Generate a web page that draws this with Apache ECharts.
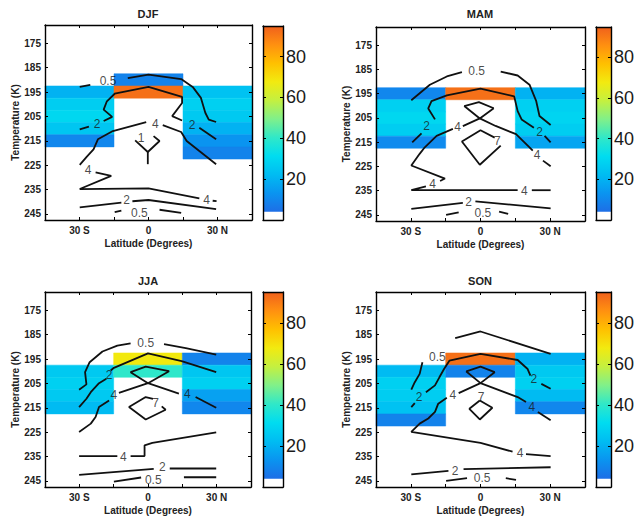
<!DOCTYPE html>
<html><head><meta charset="utf-8">
<script src="https://cdn.jsdelivr.net/npm/echarts@6/dist/echarts.min.js"></script>
<style>html,body{margin:0;padding:0;background:#fff}#c{width:637px;height:518px}</style>
</head><body><div id="c"></div>
<script>
// ---------------- data ----------------
const seasons = ['DJF', 'MAM', 'JJA', 'SON'];
const latTickLabels = { '-30': '30 S', '0': '0', '30': '30 N' };
const tempTicks = [175, 185, 195, 205, 215, 225, 235, 245];
const cbarTicks = [20, 40, 60, 80];
const latMin = -45, latMax = 45, latInterval = 15;
const tempMin = 167.5, tempMax = 247.5;
const latBin = 30, tempBin = 5;
const cbarMin = 0, cmapMin = 4, cmapMax = 95;
const cmapColors = ['#1e6ee6', '#0a94f0', '#00bcf2', '#00dcf0', '#30e8c8', '#80f08a',
                    '#c4f040', '#f2ea10', '#ffc000', '#ff9010', '#f0601c'];

// cells: [latitude bin centre, temperature bin centre, value]
const djfCells = [[-30,195,20],[-30,200,27],[-30,205,30],[-30,210,25],[-30,215,10],
  [0,190,9],[0,195,92],
  [30,195,24],[30,200,28],[30,205,26],[30,210,20],[30,215,13],[30,220,9]];
const mamCells = [[-30,195,10],[-30,200,28],[-30,205,30],[-30,210,27],[-30,215,11],
  [0,195,92],
  [30,195,20],[30,200,28],[30,205,29],[30,210,27],[30,215,17]];
const jjaCells = [[-30,200,26],[-30,205,28],[-30,210,26],[-30,215,22],
  [0,195,68],[0,200,40],
  [30,195,9],[30,200,25],[30,205,28],[30,210,16],[30,215,10]];
const sonCells = [[-30,200,22],[-30,205,28],[-30,210,27],[-30,215,24],[-30,220,9],
  [0,195,92],[0,200,9],
  [30,195,20],[30,200,26],[30,205,28],[30,210,22],[30,215,10]];

// contour segments: [latitude, temperature]
const djfLines = [
 [[-29.9,192.9],[-25.3,192.1]],
 [[-9.0,189.3],[0,187.9],[14.2,189.7],[19.2,192.9],[22.8,197.4],[24.7,203.5],[26.2,206.3],[29.4,207.3]],
 [[-29.9,210.3],[-25.9,209.2]],
 [[-19.5,206.9],[-15.8,205.2],[-19.5,202.2],[-18.1,198.8],[-14.7,195.7],[0,192.9],[14.6,197],[14.6,199.5],[10.3,204.9],[14.6,206.7]],
 [[22.1,209.7],[29.4,214.4]],
 [[6.2,208.6],[14.2,211.4],[16.6,215.1],[22.1,219.2],[29.4,224.6]],
 [[-1.0,207.3],[-15.5,211],[-22,214.4],[-23.9,218.5],[-26.8,221.5],[-29.9,224.9]],
 [[-23,228],[-16.2,229.4],[-29.9,234.8],[0,234.5],[22.1,238.6]],
 [[27.9,239.6],[29.6,239.8]],
 [[-5.8,214.8],[-0.3,219.6],[4.8,215.1],[2.2,213.1]],
 [[-0.3,219.6],[-0.3,224.6]],
 [[-29.9,242.3],[-11.8,240.4]],
 [[-7.0,239.8],[0,239.3],[29.4,243]],
 [[-14.7,244.3],[-11.8,243.7]],
 [[4.8,243.3],[14.2,244.6]]
];
const djfLabels = [[-17.6,190.6,'0.5'],[-22.4,208.3,'2'],[18.9,208.4,'2'],[3.0,208,'4'],
  [-26.3,226.9,'4'],[25.3,239.4,'4'],[-3.2,213.9,'1'],[-9.5,239.4,'2'],[-4.0,244.5,'0.5']];

const mamLines = [
 [[-29.8,197.7],[-21.8,191.3],[-14.5,187.9],[-8.0,186.1]],
 [[8.7,185.9],[16,187.5],[21.1,191.3],[24,198.1],[25.4,204.2],[30.2,207.9]],
 [[-19.6,205.6],[-22.5,201.1],[-21.1,198.1],[-14.5,195.7],[0,192.9],[14.5,196.1],[16,202.2],[17.7,205.6],[23,209]],
 [[27.6,212.4],[30.2,215.1]],
 [[-25.4,211.4],[-29.4,215.1]],
 [[5.7,201],[-0.3,205.2],[-7.6,208.4]],
 [[-7,200.1],[-0.7,198.5],[5.7,201]],
 [[-7,200.1],[-0.3,205.2],[6.5,208.3],[15.3,211.7],[21.1,217.1],[22.5,218.5]],
 [[26.9,222.6],[30.2,224.9]],
 [[-11.9,209.5],[-18.9,212.4],[-24,217.1],[-26.2,219.8],[-29.8,224.6],[-15.3,230],[-17.4,231]],
 [[-23.5,233.2],[-29.8,234.8],[16,234.8]],
 [[22.1,234.8],[30.2,234.8]],
 [[6.1,213.1],[0,210.1],[-8,214.7],[-0.3,224.3],[8.7,216.4]],
 [[-29.8,242.5],[-7.6,240]],
 [[-2.2,239.4],[30.2,242.3]],
 [[-14.8,245],[-9.4,243.9]],
 [[8,243.6],[11.9,244.6]]
];
const mamLabels = [[-1.7,185.6,'0.5'],[25.4,210.6,'2'],[-23.2,208.3,'2'],[-9.9,208.7,'4'],
  [24.4,220.1,'4'],[-20.6,232.3,'4'],[18.9,235.1,'4'],[7.3,214.7,'7'],[-5.1,239.6,'2'],[1,244.4,'0.5']];

const jjaLines = [
 [[-30.1,207.6],[-26.9,205.4],[-27.5,200.4],[-25.5,196.3],[-19.9,191.9],[-13.4,189.5],[-7.6,188.6]],
 [[7,188.9],[16.5,190.5],[29.8,193.2]],
 [[29.8,200.4],[14.7,195.9],[0,192.7],[-14.9,198.6],[-16.3,199.7]],
 [[-18.2,203.1],[-21.4,204.9],[-25,208.6],[-26.9,211.3],[-30.1,214.7]],
 [[-17,212],[-21.4,214.7],[-22.9,218.8],[-25,221.5],[-30.1,224.9]],
 [[-12.7,208.9],[0,204.9],[9.2,200],[-1,198.1],[-7.6,200.4],[0,204.9],[13.5,209.2]],
 [[20.8,210.6],[29.8,215]],
 [[2.2,211.3],[-1,210.6],[-8.3,214.7],[-1,219.8],[7.7,215.8],[6,214.4]],
 [[-30.1,234.8],[-13.4,234.8]],
 [[-7.6,234.8],[-1.5,234.8],[-1.5,230.4],[1.9,229.4],[29.8,225.1]],
 [[-30.1,242.5],[2.5,240.1]],
 [[9.5,239.9],[29.8,239.9]],
 [[-14.9,245.3],[-3.0,243.6]],
 [[15.7,243.5],[29.8,243.5]]
];
const jjaLabels = [[-1,188.6,'0.5'],[-17,201.4,'2'],[-14.9,209.9,'4'],[17.2,209.5,'4'],
  [3.3,213.1,'7'],[-10.8,235.1,'4'],[6.3,239.2,'2'],[2.3,244.5,'0.5']];

const sonLines = [
 [[-10.9,186.4],[0,183.7],[30.2,192.9]],
 [[-25,196.3],[-26.2,201.1],[-28.3,204.5],[-29.8,207.6]],
 [[-29.8,214.7],[-28.3,213.1]],
 [[-23.5,208.6],[-19.6,205.8],[-17.7,202.5],[-15.7,199.1],[-13.4,195.7],[0,192.9],[16,195.4],[20.3,199.1],[21.5,201.8]],
 [[26.2,205.2],[30.2,207.2]],
 [[-14.5,210.9],[-18.2,213.3],[-19.6,216.7],[-22.5,219.4],[-26.2,221.5],[-29.8,224.9],[0,229.4],[13.8,233]],
 [[19.6,234],[30.2,234.8]],
 [[-9.4,209],[0,204.9],[6.1,200.4],[0,198.1],[-6.1,200.1],[0,204.9],[16,210.6],[19.6,212.6]],
 [[24.7,216.7],[30.2,220.1]],
 [[-0.3,212],[-4.8,215.4],[-0.3,219.8],[5.1,215],[-0.3,212]],
 [[-29.8,242.3],[-13.8,240.9]],
 [[-7.3,240.2],[30.2,239.4]],
 [[-14.8,245],[-5.8,243.9]],
 [[10.9,243.9],[15.3,244.6]]
];
const sonLabels = [[-18.6,194,'0.5'],[-26.4,210.6,'2'],[23,203.3,'2'],[-11.9,209.9,'4'],
  [17.1,233.7,'4'],[22.1,214.7,'4'],[0.3,210.6,'7'],[-10.9,240.8,'2'],[0.7,243.9,'0.5']];

// ---------------- layout ----------------
const FONT = '"Liberation Sans", Arial, Helvetica, sans-serif';
const layout = [
  { plot: [45, 25, 207, 195], cbar: [263, 26, 20, 194], title: [148, 14] },
  { plot: [376, 27, 209, 194], cbar: [596, 27, 18, 193], title: [480, 14] },
  { plot: [45, 292, 206, 195], cbar: [263, 292, 20, 195], title: [148, 281] },
  { plot: [376, 292, 209, 195], cbar: [596, 292, 19, 195], title: [480, 281] }
];
const panels = [
  { cells: djfCells, lines: djfLines, labels: djfLabels },
  { cells: mamCells, lines: mamLines, labels: mamLabels },
  { cells: jjaCells, lines: jjaLines, labels: jjaLabels },
  { cells: sonCells, lines: sonLines, labels: sonLabels }
];

function cellRender(params, api) {
  const lat = api.value(0), t = api.value(1);
  const p1 = api.coord([lat - latBin / 2, t - tempBin / 2]);
  const p2 = api.coord([lat + latBin / 2, t + tempBin / 2]);
  const c = api.visual('color');
  return { type: 'rect',
    shape: { x: Math.min(p1[0], p2[0]), y: Math.min(p1[1], p2[1]),
             width: Math.abs(p2[0] - p1[0]), height: Math.abs(p2[1] - p1[1]) },
    style: { fill: c, stroke: c, lineWidth: 0.5 } };
}
function cbarRender(params, api) {
  const cs = params.coordSys;
  const yLo = api.coord([0, api.value(0)])[1];
  const yHi = api.coord([0, api.value(1)])[1];
  const fill = params.dataIndex === 0 ? '#ffffff' :
    new echarts.graphic.LinearGradient(0, 1, 0, 0,
      cmapColors.map((c, i) => ({ offset: i / (cmapColors.length - 1), color: c })));
  return { type: 'rect', shape: { x: cs.x, y: yHi, width: cs.width, height: yLo - yHi }, style: { fill } };
}

const grid = [], xAxis = [], yAxis = [], series = [], graphic = [], heatIdx = [];
const lineCol = '#000';
const labTxt = { fontSize: 10, fontWeight: 'bold', color: '#222', fontFamily: FONT };

panels.forEach((p, k) => {
  const L = layout[k];
  const gi = grid.length;
  grid.push({ left: L.plot[0], top: L.plot[1], width: L.plot[2], height: L.plot[3], show: false });
  const xb = xAxis.length;
  const xCommon = { type: 'value', gridIndex: gi, min: latMin, max: latMax, interval: latInterval, z: 10,
    splitLine: { show: false },
    axisLine: { show: true, onZero: false, lineStyle: { color: lineCol, width: 1.4 } },
    axisTick: { show: true, inside: true, length: 3, lineStyle: { color: lineCol, width: 1 } } };
  xAxis.push(Object.assign({}, xCommon, { position: 'bottom',
    axisLabel: Object.assign({ formatter: v => latTickLabels[v] || '', margin: 5 }, labTxt),
    name: 'Latitude (Degrees)', nameLocation: 'middle', nameGap: 18, nameTextStyle: labTxt }));
  xAxis.push(Object.assign({}, xCommon, { position: 'top', axisLabel: { show: false } }));
  const yl = yAxis.length;
  const yCommon = { type: 'value', gridIndex: gi, min: tempMin, max: tempMax, inverse: true, z: 10,
    splitLine: { show: false },
    axisLine: { show: true, onZero: false, lineStyle: { color: lineCol, width: 1.4 } },
    axisTick: { show: true, inside: true, length: 3, customValues: tempTicks, lineStyle: { color: lineCol, width: 1 } } };
  yAxis.push(Object.assign({}, yCommon, { position: 'left',
    axisLabel: Object.assign({ customValues: tempTicks, margin: 4 }, labTxt),
    name: 'Temperature (K)', nameLocation: 'middle', nameGap: 25, nameRotate: 90, nameTextStyle: labTxt }));
  yAxis.push(Object.assign({}, yCommon, { position: 'right', axisLabel: { show: false } }));

  heatIdx.push(series.length);
  series.push({ type: 'custom', xAxisIndex: xb, yAxisIndex: yl, data: p.cells, renderItem: cellRender, z: 1, silent: true });
  p.lines.forEach(seg => series.push({ type: 'line', xAxisIndex: xb, yAxisIndex: yl, data: seg,
    symbol: 'none', lineStyle: { color: '#111', width: 1.8 }, z: 3, silent: true }));
  series.push({ type: 'scatter', xAxisIndex: xb, yAxisIndex: yl, symbolSize: 0, z: 4, silent: true,
    data: p.labels.map(l => ({ value: [l[0], l[1]], name: l[2] })),
    label: { show: true, position: 'inside', formatter: q => q.name, fontSize: 12, lineHeight: 10,
             color: '#1a1a1a', fontFamily: FONT } });

  // colorbar
  const cg = grid.length;
  grid.push({ left: L.cbar[0], top: L.cbar[1], width: L.cbar[2], height: L.cbar[3], show: false });
  const cx = xAxis.length;
  xAxis.push({ type: 'value', gridIndex: cg, min: 0, max: 1, show: false });
  xAxis.push({ type: 'value', gridIndex: cg, min: 0, max: 1, position: 'top', z: 10,
    axisLine: { show: true, onZero: false, lineStyle: { color: lineCol, width: 1.4 } },
    axisTick: { show: false }, axisLabel: { show: false }, splitLine: { show: false } });
  xAxis.push({ type: 'value', gridIndex: cg, min: 0, max: 1, position: 'bottom', z: 10,
    axisLine: { show: true, onZero: false, lineStyle: { color: lineCol, width: 1.4 } },
    axisTick: { show: false }, axisLabel: { show: false }, splitLine: { show: false } });
  const cy = yAxis.length;
  const cCommon = { type: 'value', gridIndex: cg, min: cbarMin, max: cmapMax, z: 10, splitLine: { show: false },
    axisLine: { show: true, onZero: false, lineStyle: { color: lineCol, width: 1.4 } },
    axisTick: { show: true, inside: true, length: 3, customValues: cbarTicks, lineStyle: { color: lineCol } } };
  yAxis.push(Object.assign({}, cCommon, { position: 'right',
    axisLabel: { customValues: cbarTicks, fontSize: 18, color: '#1a1a1a', fontFamily: FONT, margin: 3 } }));
  yAxis.push(Object.assign({}, cCommon, { position: 'left', axisLabel: { show: false } }));
  series.push({ type: 'custom', xAxisIndex: cx, yAxisIndex: cy, silent: true, z: 1,
    data: [[cbarMin, cmapMin], [cmapMin, cmapMax]], renderItem: cbarRender });

  graphic.push({ type: 'text', x: L.title[0], y: L.title[1], z: 10,
    style: { text: seasons[k], textAlign: 'center', textVerticalAlign: 'middle',
             font: 'bold 11px ' + FONT, fill: '#222' } });
});

const chart = echarts.init(document.getElementById('c'), null, { renderer: 'svg', width: 637, height: 518 });
chart.setOption({
  animation: false,
  backgroundColor: '#fff',
  grid, xAxis, yAxis, series, graphic,
  visualMap: { type: 'continuous', show: false, min: cmapMin, max: cmapMax, dimension: 2,
               seriesIndex: heatIdx, inRange: { color: cmapColors } }
});
</script></body></html>
